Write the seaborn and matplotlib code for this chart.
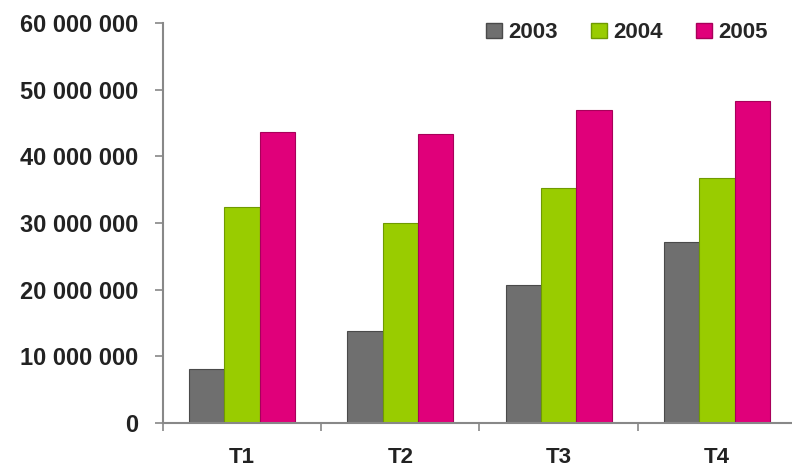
import matplotlib
matplotlib.use("Agg")
import matplotlib.pyplot as plt
import matplotlib.ticker as mticker
from matplotlib.patches import Patch
import seaborn as sns
import pandas as pd

quarters = ["T1", "T2", "T3", "T4"]
years = ["2003", "2004", "2005"]
values_2003 = [8_100_000, 13_800_000, 20_700_000, 27_200_000]
values_2004 = [32_400_000, 30_000_000, 35_200_000, 36_800_000]
values_2005 = [43_700_000, 43_300_000, 46_900_000, 48_300_000]
colors = ["#6f6f6f", "#99cc00", "#e0007a"]
edge_colors = ["#4a4a4a", "#6f9a00", "#a8005a"]

rows = []
for year, vals in zip(years, [values_2003, values_2004, values_2005]):
    for q, v in zip(quarters, vals):
        rows.append({"quarter": q, "year": year, "value": v})
df = pd.DataFrame(rows)

sns.set_style("white")
plt.rcParams["font.family"] = ["Liberation Sans", "DejaVu Sans"]
plt.rcParams["font.weight"] = "bold"

fig = plt.figure(figsize=(7.92, 4.68), dpi=100)
ax = fig.add_axes([163 / 792, 45 / 468, 633 / 792, 400 / 468])

sns.barplot(data=df, x="quarter", y="value", hue="year", order=quarters,
            hue_order=years, palette=colors, saturation=1, width=0.67,
            gap=0, legend=False, ax=ax)

for i, container in enumerate(ax.containers):
    for bar in container:
        bar.set_edgecolor(edge_colors[i])
        bar.set_linewidth(0.8)

ax.set_xlim(-0.5, 3.5)
ax.set_ylim(0, 60_000_000)
ax.set_xlabel("")
ax.set_ylabel("")

ax.yaxis.set_major_locator(mticker.MultipleLocator(10_000_000))
ax.yaxis.set_major_formatter(
    mticker.FuncFormatter(lambda v, p: f"{int(v):,}".replace(",", " ")))

ax.set_xticks(range(len(quarters)))
ax.set_xticklabels(quarters)
ax.set_xticks([-0.5, 0.5, 1.5, 2.5, 3.5], minor=True)
ax.tick_params(axis="x", which="major", length=0, pad=17,
               labelsize=16, labelcolor="#222222")
ax.tick_params(axis="x", which="minor", length=6, direction="out",
               color="#888888", width=1.2, bottom=True)
ax.tick_params(axis="y", which="major", length=6, direction="out",
               color="#888888", width=1.2, left=True, pad=12,
               labelsize=17, labelcolor="#222222")

for side in ["top", "right"]:
    ax.spines[side].set_visible(False)
for side in ["left", "bottom"]:
    ax.spines[side].set_color("#888888")
    ax.spines[side].set_linewidth(1.5)

handles = [Patch(facecolor=c, edgecolor=e, label=y)
           for c, e, y in zip(colors, edge_colors, years)]
fig.legend(handles=handles, loc="upper right", bbox_to_anchor=(0.995, 0.995),
           ncol=3, frameon=False, handlelength=0.7,
           handleheight=0.7, handletextpad=0.3, columnspacing=1.5,
           prop={"weight": "bold", "size": 16})

fig.savefig("out.png", dpi=100)
